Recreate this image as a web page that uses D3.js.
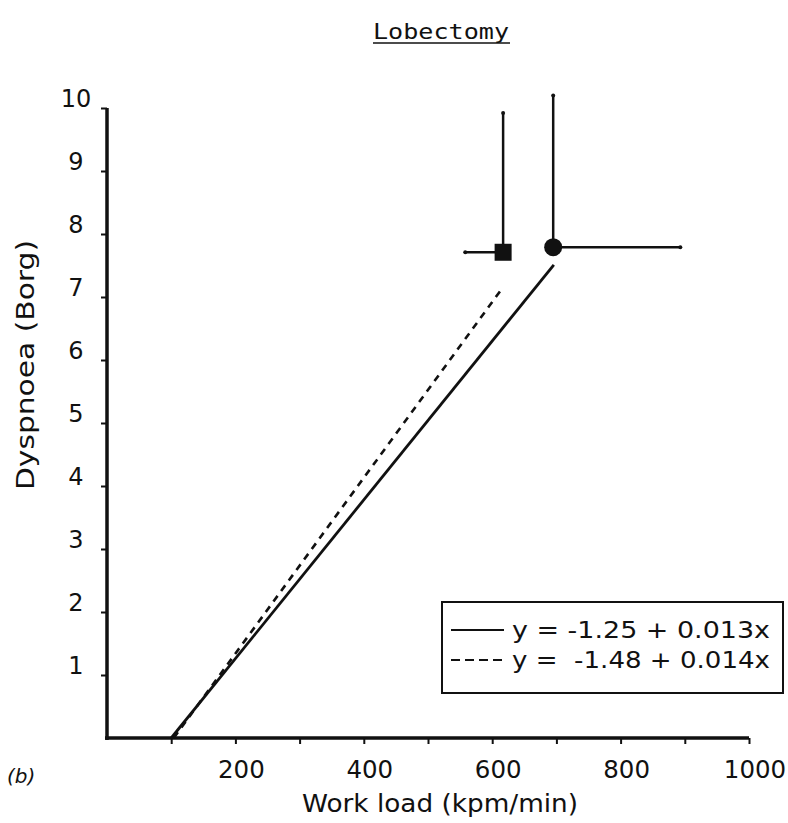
<!DOCTYPE html>
<html>
<head>
<meta charset="utf-8">
<script src="https://cdn.jsdelivr.net/npm/d3@7"></script>
<style>
  body { margin: 0; background: #fff; }
  svg text { font-family: "DejaVu Sans", "Noto Sans", sans-serif; fill: #111; }
</style>
</head>
<body>
<div id="chart"></div>
<script>
// Values (work load in kpm/min, dyspnoea on Borg scale)
const xTicks = [100, 200, 300, 400, 500, 600, 700, 800, 900, 1000];
const xTickLabels = [200, 400, 600, 800, 1000];
const yTicks = [1, 2, 3, 4, 5, 6, 7, 8, 9, 10];

// Regression lines, drawn between their end points
const solidLine = [[100, 0], [696, 7.51]];
const dashedLine = [[104, 0], [615, 7.13]];

// Mean points with one-sided error bars
const squarePoint = { x: 617, y: 7.71, xLo: 558, yHi: 9.92 };
const circlePoint = { x: 695, y: 7.79, xHi: 893, yHi: 10.2 };

const legendLabels = ["y = -1.25 + 0.013x", "y =  -1.48 + 0.014x"];

const W = 788, H = 823;
const svg = d3.select("#chart").append("svg")
  .attr("width", W).attr("height", H);

const x = d3.scaleLinear().domain([0, 1000]).range([107, 749]);
const y = d3.scaleLinear().domain([0, 10]).range([738, 108]);

// Title, underlined
svg.append("text")
  .attr("x", 441).attr("y", 39)
  .attr("text-anchor", "middle")
  .attr("font-size", 22)
  .attr("textLength", 136)
  .attr("lengthAdjust", "spacingAndGlyphs")
  .style("font-family", "'DejaVu Sans Mono', monospace")
  .text("Lobectomy");
svg.append("line")
  .attr("x1", 373).attr("x2", 510).attr("y1", 43).attr("y2", 43)
  .attr("stroke", "#111").attr("stroke-width", 1.6);

// X axis
const gx = svg.append("g").attr("transform", `translate(0,${y(0)})`);
gx.call(d3.axisBottom(x).tickValues(xTicks).tickSize(6).tickSizeOuter(0).tickFormat(""));
gx.select(".domain").attr("stroke", "#111").attr("stroke-width", 3.5)
  .attr("d", `M${x(0) - 2},0H${x(1000)}`);
gx.selectAll(".tick line").attr("stroke", "#111").attr("stroke-width", 2);
gx.selectAll(".tick-label").data(xTickLabels).join("text")
  .attr("x", (d) => x(d) + 6).attr("y", 40)
  .attr("text-anchor", "middle")
  .attr("font-size", 24.5)
  .text((d) => d);

// Y axis
const gy = svg.append("g").attr("transform", `translate(${x(0)},0)`);
gy.call(d3.axisLeft(y).tickValues(yTicks).tickSize(6).tickSizeOuter(0).tickFormat(""));
gy.select(".domain").attr("stroke", "#111").attr("stroke-width", 3.5)
  .attr("d", `M0,${y(0) + 2}V${y(10)}`);
gy.selectAll(".tick line").attr("stroke", "#111").attr("stroke-width", 2);
gy.selectAll(".tick-label").data(yTicks).join("text")
  .attr("x", -31)
  .attr("y", (d) => y(d) - 1)
  .attr("text-anchor", "middle")
  .attr("font-size", 24)
  .text((d) => d);

// Axis titles
svg.append("text")
  .attr("x", 440).attr("y", 812)
  .attr("text-anchor", "middle")
  .attr("font-size", 25)
  .attr("textLength", 276)
  .attr("lengthAdjust", "spacingAndGlyphs")
  .text("Work load (kpm/min)");
svg.append("text")
  .attr("transform", `translate(34,${365}) rotate(-90)`)
  .attr("text-anchor", "middle")
  .attr("font-size", 25)
  .attr("textLength", 250)
  .attr("lengthAdjust", "spacingAndGlyphs")
  .text("Dyspnoea (Borg)");
svg.append("text")
  .attr("x", 7).attr("y", 783)
  .attr("font-size", 20)
  .attr("font-style", "italic")
  .text("(b)");

// Regression lines
const line = d3.line().x((d) => x(d[0])).y((d) => y(d[1]));
svg.append("path")
  .attr("d", line(solidLine))
  .attr("fill", "none").attr("stroke", "#111").attr("stroke-width", 2.8);
svg.append("path")
  .attr("d", line(dashedLine))
  .attr("fill", "none").attr("stroke", "#111").attr("stroke-width", 2.6)
  .attr("stroke-dasharray", "7,6");

// Error bars
const bars = svg.append("g").attr("stroke", "#111").attr("stroke-width", 2.5);
const cap = (cx, cy) => bars.append("circle").attr("cx", cx).attr("cy", cy)
  .attr("r", 2).attr("fill", "#111").attr("stroke", "none");

bars.append("line")
  .attr("x1", x(squarePoint.x)).attr("x2", x(squarePoint.x))
  .attr("y1", y(squarePoint.y)).attr("y2", y(squarePoint.yHi));
bars.append("line")
  .attr("x1", x(squarePoint.x)).attr("x2", x(squarePoint.xLo))
  .attr("y1", y(squarePoint.y)).attr("y2", y(squarePoint.y));
cap(x(squarePoint.x), y(squarePoint.yHi));
cap(x(squarePoint.xLo), y(squarePoint.y));

bars.append("line")
  .attr("x1", x(circlePoint.x)).attr("x2", x(circlePoint.x))
  .attr("y1", y(circlePoint.y)).attr("y2", y(circlePoint.yHi));
bars.append("line")
  .attr("x1", x(circlePoint.x)).attr("x2", x(circlePoint.xHi))
  .attr("y1", y(circlePoint.y)).attr("y2", y(circlePoint.y));
cap(x(circlePoint.x), y(circlePoint.yHi));
cap(x(circlePoint.xHi), y(circlePoint.y));

// Markers
svg.append("rect")
  .attr("x", x(squarePoint.x) - 8.5).attr("y", y(squarePoint.y) - 8.5)
  .attr("width", 17).attr("height", 17).attr("fill", "#111");
svg.append("circle")
  .attr("cx", x(circlePoint.x)).attr("cy", y(circlePoint.y))
  .attr("r", 9).attr("fill", "#111");

// Legend
const lg = svg.append("g").attr("transform", "translate(442,602)");
lg.append("rect")
  .attr("width", 341).attr("height", 91)
  .attr("fill", "#fff").attr("stroke", "#111").attr("stroke-width", 2);
lg.selectAll(".key").data(legendLabels).join("line")
  .attr("x1", 9).attr("x2", 62)
  .attr("y1", (d, i) => 28 + i * 30).attr("y2", (d, i) => 28 + i * 30)
  .attr("stroke", "#111").attr("stroke-width", 2.2)
  .attr("stroke-dasharray", (d, i) => (i === 0 ? null : "9,5"));
lg.selectAll(".label").data(legendLabels).join("text")
  .attr("x", 70).attr("y", (d, i) => 36 + i * 30)
  .attr("font-size", 23)
  .attr("textLength", 258)
  .attr("lengthAdjust", "spacingAndGlyphs")
  .style("white-space", "pre")
  .text((d) => d);
</script>
</body>
</html>
